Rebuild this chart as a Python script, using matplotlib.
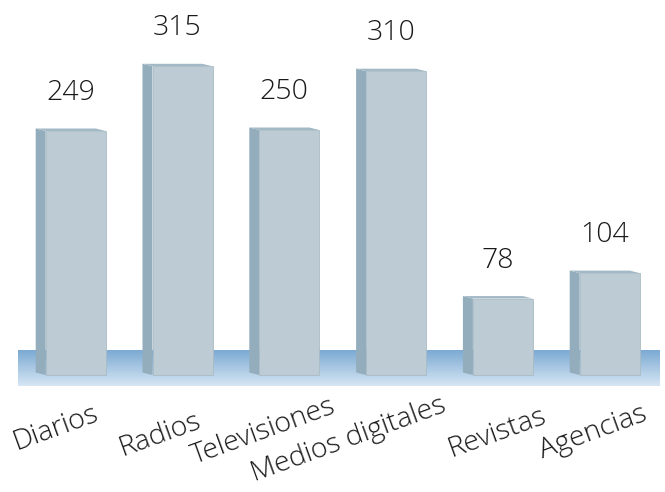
import numpy as np
import matplotlib
matplotlib.use("Agg")
import matplotlib.pyplot as plt
from matplotlib.patches import Polygon

categories = ["Diarios", "Radios", "Televisiones", "Medios digitales", "Revistas", "Agencias"]
values = [249, 315, 250, 310, 78, 104]

# --- look -------------------------------------------------------------------------------
FACE, SIDE, TOP = "#bdcbd4", "#93adbc", "#a3b9c6"
FLOOR_TOP, FLOOR_BOT = np.array([124, 170, 211]) / 255, np.array([214, 230, 244]) / 255
FONT = ["Open Sans", "DejaVu Sans"]

W, H = 665, 492
PX_X = 106.8          # pixels per category step
PX_Y = 0.98           # pixels per value unit
X0_PX, Y0_PX = 75.7, 375   # pixel position of category 0 / value 0 (from top)

fig = plt.figure(figsize=(W / 100, H / 100), dpi=100)
ax = fig.add_axes([0, 0, 1, 1])
ax.set_xlim(-X0_PX / PX_X, (W - X0_PX) / PX_X)
ax.set_ylim(-(H - Y0_PX) / PX_Y, Y0_PX / PX_Y)
ax.axis("off")

# floor band with vertical gradient
fl_x0, fl_x1 = (18 - X0_PX) / PX_X, (660 - X0_PX) / PX_X
fl_top, fl_bot = (Y0_PX - 350) / PX_Y, (Y0_PX - 386) / PX_Y
grad = np.linspace(0, 1, 64)[:, None, None]
img = FLOOR_TOP * (1 - grad) + FLOOR_BOT * grad
ax.imshow(img, extent=[fl_x0, fl_x1, fl_bot, fl_top], aspect="auto", zorder=1)

half = 30 / PX_X      # half face width
dx = 10 / PX_X        # depth to the left
dy = 2.5 / PX_Y       # depth upwards

for i, (cat, v) in enumerate(zip(categories, values)):
    x0, x1 = i - half, i + half
    ax.add_patch(Polygon([(x0 - dx, dy), (x0, 0), (x0, v), (x0 - dx, v + dy)],
                         closed=True, fc=SIDE, ec="none", zorder=3))
    ax.add_patch(Polygon([(x0 - dx, v + dy), (x1 - dx, v + dy), (x1, v), (x0, v)],
                         closed=True, fc=TOP, ec="none", zorder=3))
    ax.add_patch(Polygon([(x0, 0), (x1, 0), (x1, v), (x0, v)],
                         closed=True, fc=FACE, ec="#a9bcc6", lw=0.6, zorder=4))
    ax.text(i - 5 / PX_X, v + 31 / PX_Y, str(v), ha="center", va="baseline",
            fontsize=20.5, family=FONT, fontweight="light", color="#1a1a1a", zorder=5)

# rotated category labels: baseline-centre offsets in pixels (dx from tick, y from top)
label_pos = [(-18, 435), (-20, 441), (-23, 438), (-45, 446), (-4, 439), (-14, 439)]
for i, (cat, (ox, oy)) in enumerate(zip(categories, label_pos)):
    ax.text(i + ox / PX_X, (Y0_PX - oy) / PX_Y, cat, rotation=20,
            rotation_mode="anchor", ha="center", va="baseline",
            fontsize=20.5, family=FONT, fontweight="light", color="#1a1a1a", zorder=5)

fig.savefig("out.png", dpi=100, facecolor="white")
